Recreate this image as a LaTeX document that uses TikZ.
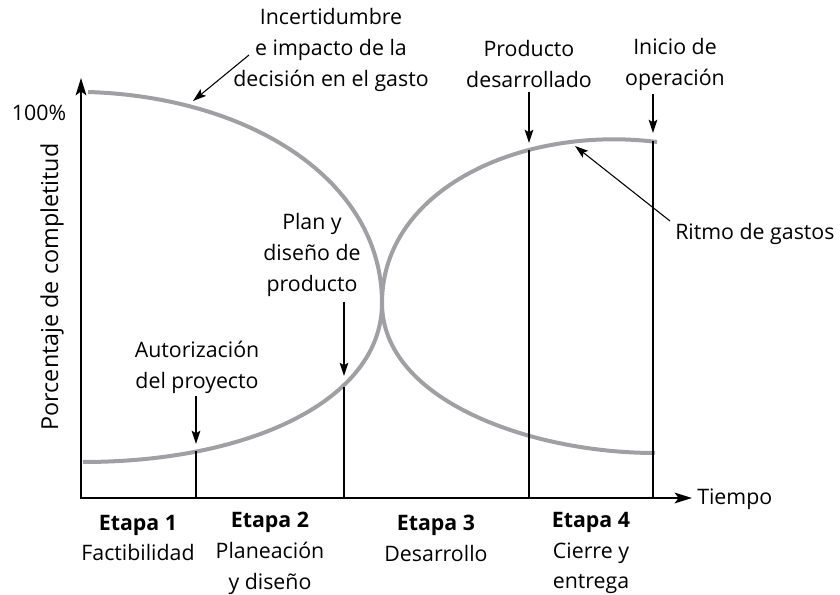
\documentclass[tikz,border=0pt]{standalone}
\usepackage{fontspec}
\setmainfont{Open Sans}
\usetikzlibrary{arrows.meta}
\definecolor{curvegray}{RGB}{160,160,164}
\begin{document}
\begin{tikzpicture}[x=0.75pt,y=-0.75pt,
  lbl/.style={font=\fontsize{16}{23.2}\selectfont, align=center, inner sep=0pt},
  curve/.style={draw=curvegray, line width=3pt},
  axis/.style={line width=1.8pt, -{Stealth[length=13pt,width=8pt,inset=3pt]}},
  guide/.style={line width=0.9pt},
  pointer/.style={line width=0.8pt, -{Stealth[length=10pt,width=6.5pt,inset=2pt]}}]
\useasboundingbox (0,0) rectangle (840,595);

% axes
\coordinate (origin) at (81,498);
\coordinate (ytop) at (81,78);
\coordinate (xend) at (692,498);
\draw[axis] (origin) -- (ytop);
\draw[axis] ([xshift=-0.9pt]origin) -- (xend);

% curves
\draw[curve] (88,92) .. controls (250,97) and (382,180) .. (382,303)
  .. controls (382,400) and (530,453) .. (655,453);
\draw[curve] (83,462) .. controls (250,462) and (382,400) .. (382,303)
  .. controls (382,190) and (520,125) .. (657,142);

% guide lines
\coordinate (g1b) at (196,498); \coordinate (g1t) at (196,451);
\coordinate (g2b) at (344,498); \coordinate (g2t) at (344,387);
\coordinate (g3b) at (529,498); \coordinate (g3t) at (529,150);
\coordinate (g4b) at (653,498); \coordinate (g4t) at (653,141);
\draw[guide] (g1b) -- (g1t);
\draw[guide] (g2b) -- (g2t);
\draw[guide] (g3b) -- (g3t);
\draw[guide] (g4b) -- (g4t);

% labels
\node[lbl] (unc) at (331,50) {Incertidumbre\\e impacto de la\\decisión en el gasto};
\node[lbl] (pct) at (39,113) {100\%};
\node[lbl, rotate=90, font=\fontsize{17.5}{20}\selectfont] (ylab) at (52,287) {Porcentaje de completitud};
\node[lbl] (plan) at (312,255) {Plan y\\diseño de\\producto};
\node[lbl] (auth) at (197,367) {Autorización\\del proyecto};
\node[lbl] (prod) at (529,64) {Producto\\desarrollado};
\node[lbl] (ini) at (675,64) {Inicio de\\operación};
\node[lbl, anchor=west] (rit) at (675,234) {Ritmo de gastos};
\node[lbl, anchor=west] (time) at (697,499) {Tiempo};

\node[lbl] (e1) at (138,538) {\textbf{Etapa 1}\\Factibilidad};
\node[lbl] (e2) at (270,553) {\textbf{Etapa 2}\\Planeación\\y diseño};
\node[lbl] (e3) at (436,538) {\textbf{Etapa 3}\\Desarrollo};
\node[lbl] (e4) at (591,553) {\textbf{Etapa 4}\\Cierre y\\entrega};

% pointers
\coordinate (uncS) at (249,55); \coordinate (uncT) at (193,101);
\draw[pointer] (uncS) -- (uncT);
\draw[pointer] (auth.south -| g1b) ++(0,3) coordinate (authS) -- (196,444);
\draw[pointer] (plan.south -| g2b) ++(0,5) coordinate (planS) -- (344,376);
\draw[pointer] (prod.south -| g3b) ++(0,4) coordinate (prodS) -- (529,143);
\draw[pointer] (ini.south -| g4b) ++(0,4) coordinate (iniS) -- (653,133);
\coordinate (ritS) at (670,221); \coordinate (ritT) at (575,146);
\draw[pointer] (ritS) -- (ritT);
\end{tikzpicture}
\end{document}
